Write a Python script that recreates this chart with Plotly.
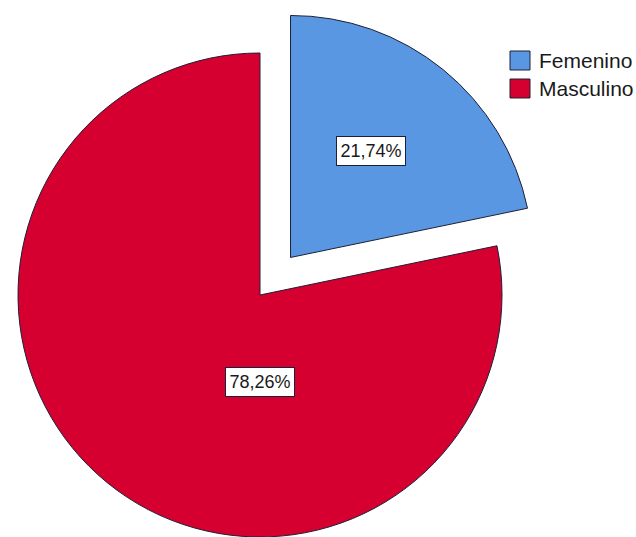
import math
import plotly.graph_objects as go

# ---- data -------------------------------------------------------------
categories = ["Femenino", "Masculino"]
percentages = [21.74, 78.26]
slice_colors = ["#5A97E2", "#D5002F"]
exploded = [True, False]          # Femenino is pulled away from the centre

# ---- geometry / style -------------------------------------------------
W, H = 636, 537
CX, CY, R = 260, 295, 242         # pie centre and radius in pixels
PULL = 0.2                        # explode distance as a fraction of R
EDGE = "#1C2036"
CLEAR = "rgba(0,0,0,0)"
FONT = "Arial, Liberation Sans, sans-serif"
# (angle in degrees clockwise from 12 o'clock or None for the bisector,
#  distance from centre as a fraction of R)
label_spots = [(37, 0.55), (180, 0.36)]

total = sum(percentages)
fractions = [v / total for v in percentages]

# bisector angle of every slice (clockwise from the top)
bisectors = []
start = 0.0
for f in fractions:
    bisectors.append(2 * math.pi * (start + f / 2))
    start += f


def px_to_paper(x, y):
    return x / W, 1 - y / H


def domain_at(cx, cy):
    x0, y1 = px_to_paper(cx - R, cy - R)
    x1, y0 = px_to_paper(cx + R, cy + R)
    return dict(x=[max(0.0, x0), min(1.0, x1)], y=[max(0.0, y0), min(1.0, y1)])


# centre of each slice after exploding
centres = []
for ang, ex in zip(bisectors, exploded):
    d = PULL * R if ex else 0.0
    centres.append((CX + d * math.sin(ang), CY - d * math.cos(ang)))

fig = go.Figure()

# one pie layer for the slices that stay in place, one for the exploded ones
for want_exploded in (False, True):
    shown = [ex == want_exploded for ex in exploded]
    if not any(shown):
        continue
    idx = shown.index(True)
    cx, cy = (CX, CY) if not want_exploded else centres[idx]
    fig.add_trace(go.Pie(
        labels=categories,
        values=percentages,
        sort=False,
        direction="clockwise",
        rotation=0,
        marker=dict(
            colors=[c if s else CLEAR for c, s in zip(slice_colors, shown)],
            line=dict(color=[EDGE if s else CLEAR for s in shown],
                      width=[1 if s else 0 for s in shown]),
        ),
        textinfo="none",
        hoverinfo="label+percent",
        showlegend=False,
        domain=domain_at(cx, cy),
    ))

# percentage labels in boxed callouts
annotations = []
for i, v in enumerate(percentages):
    ang_deg, frac = label_spots[i]
    ang = bisectors[i] if ang_deg is None else math.radians(ang_deg)
    cx, cy = centres[i]
    lx = cx + frac * R * math.sin(ang)
    ly = cy - frac * R * math.cos(ang)
    ax, ay = px_to_paper(lx, ly)
    annotations.append(dict(
        x=ax, y=ay, xref="paper", yref="paper",
        text=f"{v:.2f}%".replace(".", ","),
        showarrow=False, xanchor="center", yanchor="middle",
        width=62, height=22,
        font=dict(family=FONT, size=18, color="#1A1A1A"),
        bgcolor="white", bordercolor=EDGE, borderwidth=1, borderpad=3,
    ))

# legend: coloured swatches with category names
LEG_X, LEG_Y, LEG_STEP, SW, SH, TXT_X = 510, 51, 28, 20, 19, 537
shapes = []
for i, (name, col) in enumerate(zip(categories, slice_colors)):
    top = LEG_Y + i * LEG_STEP
    x0, y1 = px_to_paper(LEG_X, top)
    x1, y0 = px_to_paper(LEG_X + SW, top + SH)
    shapes.append(dict(type="rect", xref="paper", yref="paper",
                       x0=x0, x1=x1, y0=y0, y1=y1,
                       fillcolor=col, line=dict(color=EDGE, width=1)))
    tx, ty = px_to_paper(TXT_X, top + SH / 2)
    annotations.append(dict(
        x=tx, y=ty, xref="paper", yref="paper", text=name,
        showarrow=False, xanchor="left", yanchor="middle",
        font=dict(family=FONT, size=21, color="#1A1A1A"),
    ))

fig.update_layout(
    width=W, height=H,
    margin=dict(l=0, r=0, t=0, b=0, pad=0),
    paper_bgcolor="white", plot_bgcolor="white",
    annotations=annotations, shapes=shapes,
    showlegend=False,
)

fig.write_html("out.html")
